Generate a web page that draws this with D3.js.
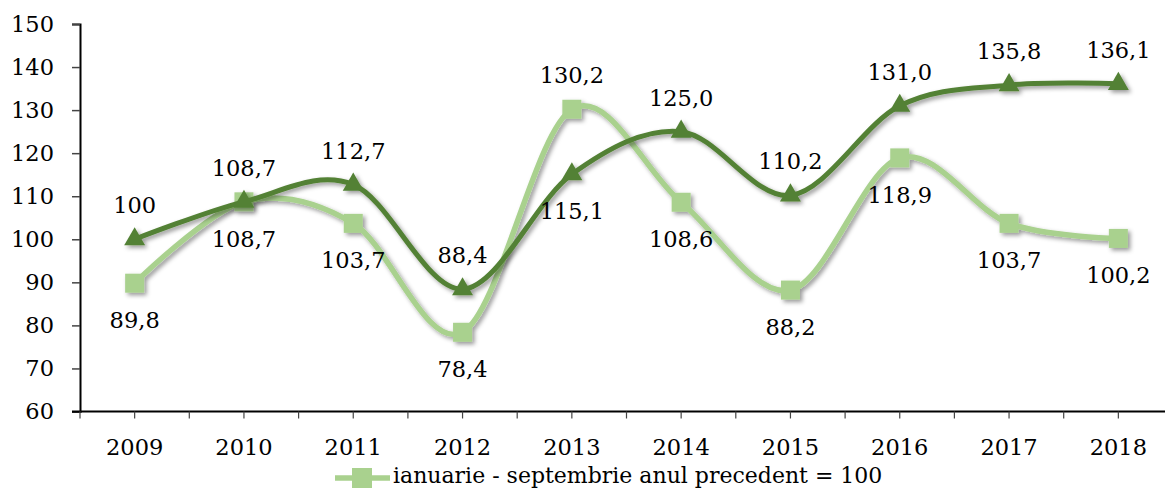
<!DOCTYPE html>
<html>
<head>
<meta charset="utf-8">
<script src="https://cdn.jsdelivr.net/npm/d3@7"></script>
<style>
    body { margin: 0; background: #fff; overflow: hidden; }
    svg { display: block; }
    text { font-family: "DejaVu Serif", serif; fill: #000; }
</style>
</head>
<body>
<svg id="chart"></svg>
<script>
// data
const years = ['2009', '2010', '2011', '2012', '2013', '2014', '2015', '2016', '2017', '2018'];
const base2008 = [100, 108.7, 112.7, 88.4, 115.1, 125.0, 110.2, 131.0, 135.8, 136.1];
const prevYear = [89.8, 108.7, 103.7, 78.4, 130.2, 108.6, 88.2, 118.9, 103.7, 100.2];
const base2008Side = ['up', 'up', 'up', 'up', 'down', 'up', 'up', 'up', 'up', 'up'];
const prevYearSide = ['down', 'down', 'down', 'down', 'up', 'down', 'down', 'down', 'down', 'down'];
const yTicks = [60, 70, 80, 90, 100, 110, 120, 130, 140, 150];
const legendLabel = 'ianuarie - septembrie anul precedent = 100';

const width = 1165, height = 489;
const dark = '#538135', light = '#a9d18e';

const svg = d3.select('#chart')
    .attr('width', width)
    .attr('height', height);

const defs = svg.append('defs');
defs.append('filter')
    .attr('id', 'shadow')
    .attr('x', '-20%').attr('y', '-20%')
    .attr('width', '140%').attr('height', '140%')
    .append('feDropShadow')
    .attr('dx', 2.5).attr('dy', 2.5)
    .attr('stdDeviation', 2)
    .attr('flood-color', '#000')
    .attr('flood-opacity', 0.4);

const x = d3.scaleBand().domain(years).range([80, 1173]);
const y = d3.scaleLinear().domain([60, 150]).range([411.5, 24]);
const cx = d => x(d) + x.bandwidth() / 2;

// y axis
const yAxis = svg.append('g')
    .attr('transform', 'translate(80,0)')
    .call(d3.axisLeft(y).tickValues(yTicks).tickSize(8).tickPadding(18));
yAxis.select('.domain').attr('stroke', '#000').attr('stroke-width', 2);
yAxis.selectAll('.tick line').attr('stroke', '#444').attr('stroke-width', 1.5);
yAxis.selectAll('.tick text')
    .attr('font-size', 22.5)
    .attr('font-family', '"DejaVu Serif", serif')
    .attr('fill', '#000');

// x axis: ticks at band edges and band centres
const xTickPos = [];
years.forEach(d => { xTickPos.push(x(d)); xTickPos.push(cx(d)); });
const xAxis = svg.append('g').attr('class', 'x-axis');
xAxis.append('line')
    .attr('x1', 72).attr('x2', width)
    .attr('y1', y(60)).attr('y2', y(60))
    .attr('stroke', '#000').attr('stroke-width', 2);
xAxis.selectAll('.xtick')
    .data(xTickPos)
    .enter()
    .append('line')
    .attr('class', 'xtick')
    .attr('x1', d => d).attr('x2', d => d)
    .attr('y1', y(60)).attr('y2', y(60) + 7)
    .attr('stroke', '#444').attr('stroke-width', 1.2);
xAxis.selectAll('.xlabel')
    .data(years)
    .enter()
    .append('text')
    .attr('class', 'xlabel')
    .attr('x', d => cx(d))
    .attr('y', y(60) + 43)
    .attr('text-anchor', 'middle')
    .attr('font-size', 22.5)
    .text(d => d);

const line = d3.line()
    .x((d, i) => cx(years[i]))
    .y(d => y(d))
    .curve(d3.curveCardinal.tension(0));

function drawSeries(values, color, shape, lineWidth) {
    const g = svg.append('g').attr('filter', 'url(#shadow)');
    g.append('path')
        .datum(values)
        .attr('d', line)
        .attr('fill', 'none')
        .attr('stroke', color)
        .attr('stroke-width', lineWidth)
        .attr('stroke-linejoin', 'round');
    if (shape === 'square') {
        g.selectAll('rect')
            .data(values)
            .enter()
            .append('rect')
            .attr('x', (d, i) => cx(years[i]) - 9.5)
            .attr('y', d => y(d) - 9.5)
            .attr('width', 19)
            .attr('height', 19)
            .attr('fill', color);
    } else {
        const tri = d3.symbol().type(d3.symbolTriangle).size(190);
        g.selectAll('path.marker')
            .data(values)
            .enter()
            .append('path')
            .attr('class', 'marker')
            .attr('d', tri)
            .attr('transform', (d, i) => `translate(${cx(years[i])},${y(d)})`)
            .attr('fill', color);
    }
}

drawSeries(prevYear, light, 'square', 5.5);
drawSeries(base2008, dark, 'triangle', 5);

const fmt = v => v === 100 ? '100' : d3.format('.1f')(v).replace('.', ',');

function drawLabels(values, sides) {
    svg.append('g')
        .selectAll('text')
        .data(values)
        .enter()
        .append('text')
        .attr('x', (d, i) => cx(years[i]))
        .attr('y', (d, i) => y(d) + (sides[i] === 'up' ? -26 : 45))
        .attr('text-anchor', 'middle')
        .attr('font-size', 22.5)
        .text(d => fmt(d));
}

drawLabels(base2008, base2008Side);
drawLabels(prevYear, prevYearSide);

// legend at the bottom
const legend = svg.append('g').attr('transform', 'translate(335,478)');
legend.append('line')
    .attr('x1', 0).attr('x2', 55)
    .attr('stroke', light).attr('stroke-width', 5.5);
legend.append('rect')
    .attr('x', 17).attr('y', -10)
    .attr('width', 20).attr('height', 20)
    .attr('fill', light);
legend.append('text')
    .attr('x', 58).attr('y', 5)
    .attr('font-size', 22)
    .text(legendLabel);
</script>
</body>
</html>
